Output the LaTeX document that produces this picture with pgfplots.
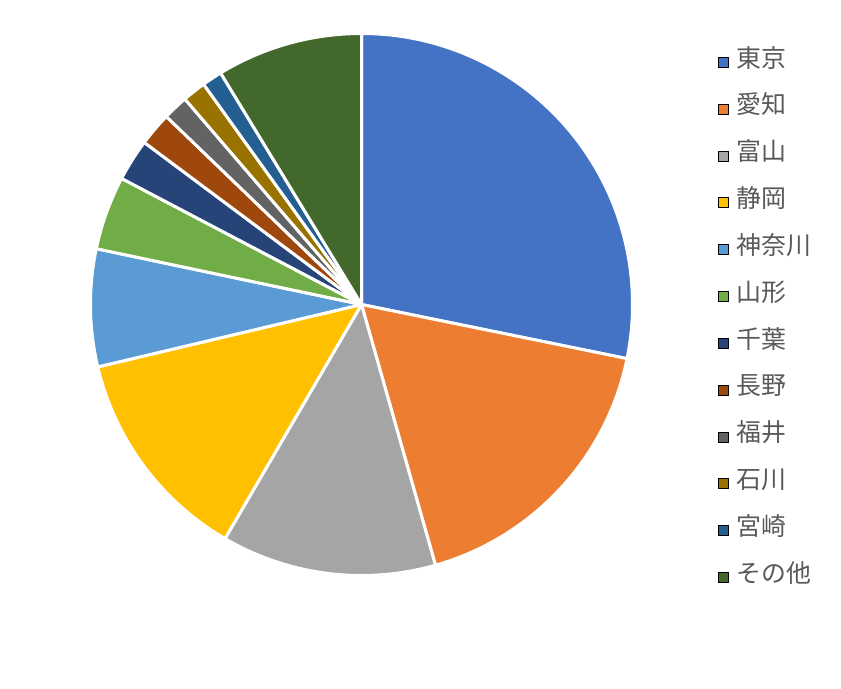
\documentclass[border=0pt]{standalone}
\usepackage{pgfplots}
\usepackage{pgfplotstable}
\pgfplotsset{compat=1.18}
\usepackage{fontspec}
\newfontfamily\cjk{Noto Sans CJK JP}
\definecolor{c1}{HTML}{4472C4}
\definecolor{c2}{HTML}{ED7D31}
\definecolor{c3}{HTML}{A5A5A5}
\definecolor{c4}{HTML}{FFC000}
\definecolor{c5}{HTML}{5B9BD5}
\definecolor{c6}{HTML}{70AD47}
\definecolor{c7}{HTML}{264478}
\definecolor{c8}{HTML}{9E480E}
\definecolor{c9}{HTML}{636363}
\definecolor{c10}{HTML}{997300}
\definecolor{c11}{HTML}{255E91}
\definecolor{c12}{HTML}{43682B}
\definecolor{legendgray}{HTML}{595959}

\pgfplotstableread[col sep=comma]{
name,value,color
東京,28.2,c1
愛知,17.4,c2
富山,12.8,c3
静岡,12.9,c4
神奈川,7.0,c5
山形,4.4,c6
千葉,2.5,c7
長野,2.0,c8
福井,1.5,c9
石川,1.4,c10
宮崎,1.2,c11
その他,8.7,c12
}\piedata

\gdef\curangle{90}
\gdef\sliceidx{0}
\def\pieR{271bp}

\begin{document}
\begin{tikzpicture}
\begin{axis}[
  disabledatascaling,
  x=1bp, y=1bp,
  xmin=-361.5, xmax=479.5,
  ymin=-384.5, ymax=304.5,
  hide axis,
  clip=false,
  legend style={
    at={(axis cs:356.5,255.5)}, anchor=north west,
    draw=none, fill=none, inner sep=0pt, outer sep=0pt,
    font=\fontsize{25}{25}\selectfont\cjk,
    text=legendgray,
    row sep=26.85bp, column sep=8bp,
    nodes={inner sep=0pt, outer sep=0pt, text height=18bp, text depth=2bp},
  },
  legend cell align=left,
  legend image code/.code={\fill[#1] (0bp,-8bp) rectangle (10bp,2bp);},
]
\path (rel axis cs:0,0) rectangle (rel axis cs:1,1);
\addplot[
  forget plot,
  scatter, only marks,
  mark=*, mark size=0pt, mark options={draw=none, fill=none},
  scatter/@pre marker code/.code={%
    \begingroup
    \pgfkeys{/pgf/fpu=false}%
    \pgfplotstablegetelem{\sliceidx}{value}\of\piedata
    \let\slv\pgfplotsretval
    \pgfplotstablegetelem{\sliceidx}{color}\of\piedata
    \let\slc\pgfplotsretval
    \pgfmathsetmacro\slend{\curangle-3.6*\slv}%
    \fill[fill=\slc, draw=white, line width=3bp, line join=round]
      (0,0) -- (\curangle:\pieR) arc[start angle=\curangle, end angle=\slend, radius=\pieR] -- cycle;
    \xdef\curangle{\slend}%
    \pgfmathtruncatemacro\nidx{\sliceidx+1}%
    \xdef\sliceidx{\nidx}%
    \endgroup
  },
  scatter/@post marker code/.code={},
] table[x expr=0, y expr=0]{\piedata};

\addlegendimage{fill=c1}\addlegendentry{東京}
\addlegendimage{fill=c2}\addlegendentry{愛知}
\addlegendimage{fill=c3}\addlegendentry{富山}
\addlegendimage{fill=c4}\addlegendentry{静岡}
\addlegendimage{fill=c5}\addlegendentry{神奈川}
\addlegendimage{fill=c6}\addlegendentry{山形}
\addlegendimage{fill=c7}\addlegendentry{千葉}
\addlegendimage{fill=c8}\addlegendentry{長野}
\addlegendimage{fill=c9}\addlegendentry{福井}
\addlegendimage{fill=c10}\addlegendentry{石川}
\addlegendimage{fill=c11}\addlegendentry{宮崎}
\addlegendimage{fill=c12}\addlegendentry{その他}
\end{axis}
\end{tikzpicture}
\end{document}
